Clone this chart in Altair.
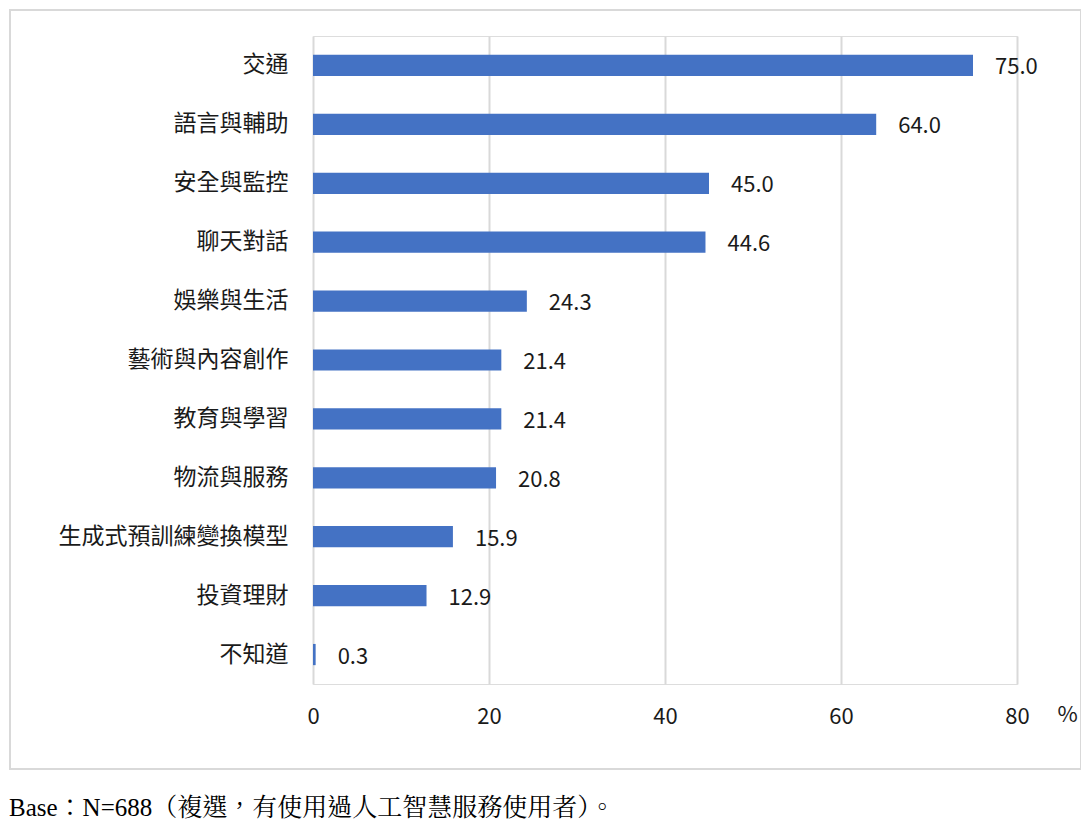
import pandas as pd
import altair as alt

# 人工智慧服務使用領域（複選）
categories = ['交通', '語言與輔助', '安全與監控', '聊天對話', '娛樂與生活',
              '藝術與內容創作', '教育與學習', '物流與服務', '生成式預訓練變換模型',
              '投資理財', '不知道']
values = [75.0, 64.0, 45.0, 44.6, 24.3, 21.4, 21.4, 20.8, 15.9, 12.9, 0.3]
x_ticks = [0, 20, 40, 60, 80]
footnote = 'Base：N=688（複選，有使用過人工智慧服務使用者）。'

df = pd.DataFrame({'category': categories, 'value': values})
df['label'] = df['value'].map(lambda v: f'{v:.1f}')

font = 'Noto Sans CJK TC'

base = alt.Chart(df)

y_enc = alt.Y('category:N', sort=categories,
              scale=alt.Scale(paddingInner=0.64, paddingOuter=0.32),
              axis=alt.Axis(title=None, ticks=False, domain=False,
                            labelFontSize=23, labelFont=font, labelColor='#1a1a1a',
                            labelPadding=25, labelLimit=400))

bars = base.mark_bar(color='#4472C4').encode(
    x=alt.X('value:Q', scale=alt.Scale(domain=[0, 80], nice=False),
            axis=alt.Axis(values=x_ticks, title='%', titleFontSize=22,
                          titleFont=font, titleFontWeight='normal', titleColor='#1a1a1a',
                          titleX=754, titleY=30, titleAngle=0, titleAlign='center',
                          titleBaseline='middle', labelFlush=False,
                          labelFontSize=22, labelFont=font, labelColor='#1a1a1a',
                          labelPadding=22, ticks=False, domain=False,
                          grid=True, gridColor='#d9d9d9', gridWidth=2)),
    y=y_enc,
)

labels = base.mark_text(align='left', baseline='middle', dx=22, dy=2,
                        fontSize=22, font=font, color='#1a1a1a').encode(
    x='value:Q',
    y=alt.Y('category:N', sort=categories),
    text='label:N',
)

# frame round the chart area and the footnote below it
frame = alt.Chart(pd.DataFrame({'k': [0]})).mark_rect(
    fill=None, stroke='#d9d9d9', strokeWidth=2).encode(
    x=alt.value(-303), x2=alt.value(768), y=alt.value(-26), y2=alt.value(733))

note = alt.Chart(pd.DataFrame({'t': [footnote]})).mark_text(
    align='left', baseline='middle', fontSize=25,
    font='Liberation Serif, Noto Serif CJK TC, Noto Sans CJK TC', color='#000000').encode(
    x=alt.value(-304), y=alt.value(772), text='t:N')

chart = (frame + bars + labels + note).properties(
    width=704, height=648,
    autosize=alt.AutoSizeParams(type='none'),
    padding={'left': 305, 'top': 28, 'right': 64, 'bottom': 140},
).configure_view(stroke=None).configure(background='white')

chart.save("out.html", embed_options={"renderer": "svg", "actions": False})
